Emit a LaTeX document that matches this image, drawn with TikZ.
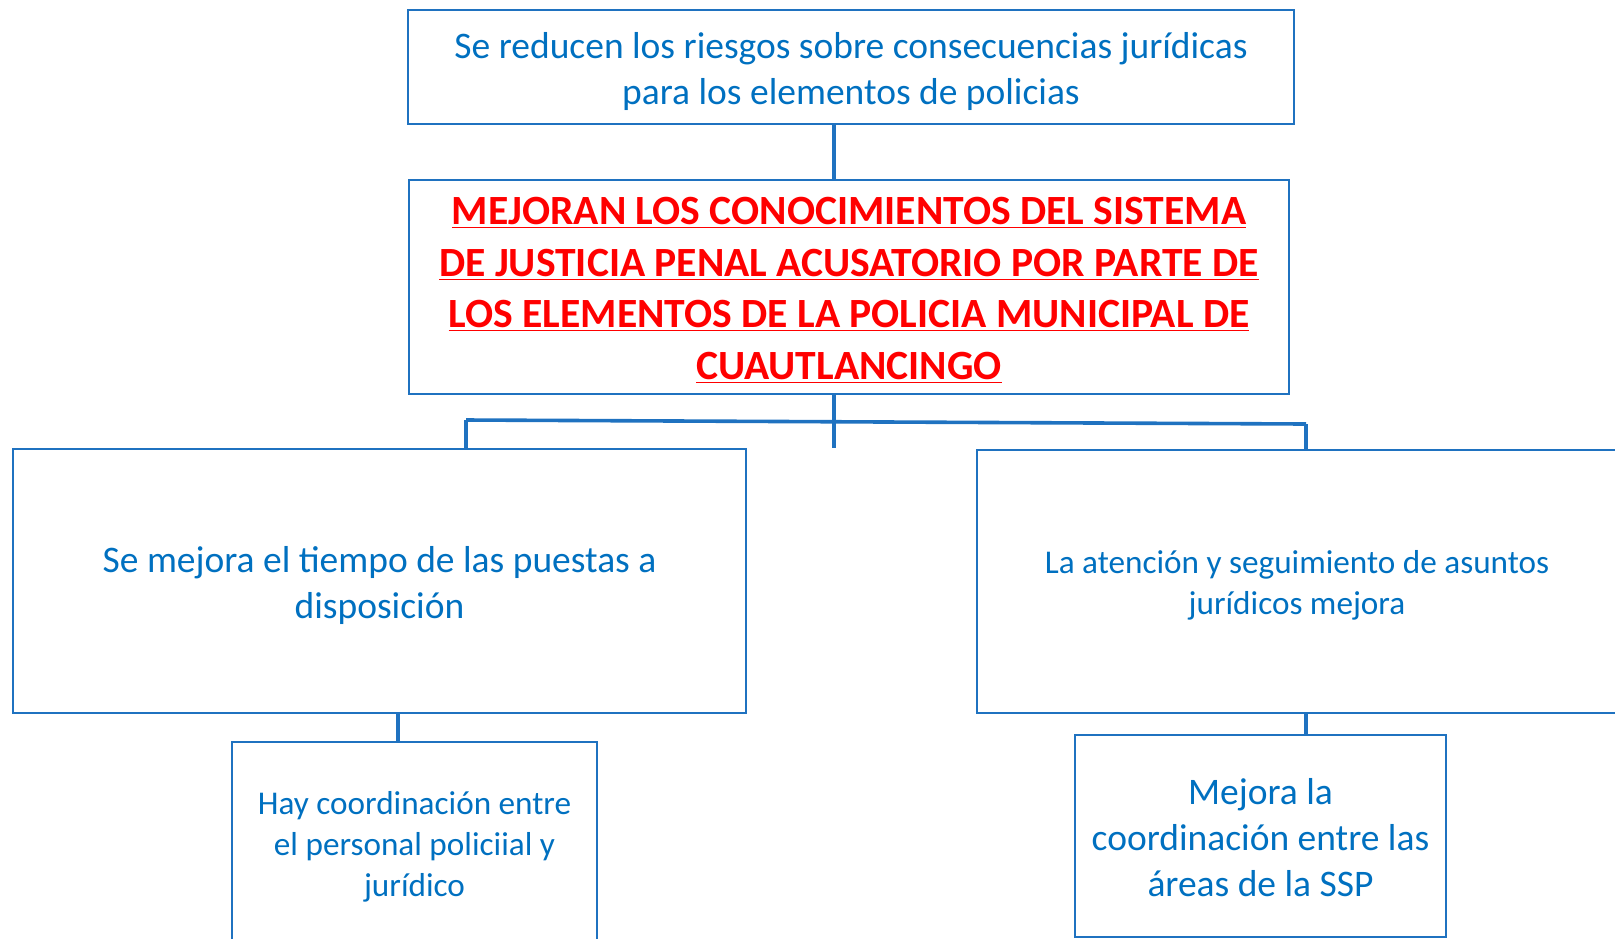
\documentclass[tikz,border=0pt]{standalone}
\usepackage{fontspec}
\setmainfont{Carlito}
\usetikzlibrary{positioning}
\definecolor{cblue}{HTML}{0070C0}
\definecolor{cline}{HTML}{1F72C0}
\definecolor{cred}{HTML}{FF0000}
\newcommand{\lift}[1][0.94em]{\rule{0pt}{#1}}
\tikzset{
  every picture/.style={line width=1.2pt},
  box/.style={draw=cline, rectangle, align=center, text=cblue, inner sep=0pt},
  link/.style={draw=cline, line width=1.8pt},
  headline/.style={font=\fontsize{20.8}{25.8}\selectfont\bfseries, text=cred},
}
\begin{document}
\begin{tikzpicture}[x=0.5pt, y=-0.5pt,
                    big/.style={font=\fontsize{18.75}{23}\selectfont},
                    small/.style={font=\fontsize{16.6}{20.4}\selectfont}]
  \clip (0,0) rectangle (1615,938);
  \node[box, big, minimum width=443pt, minimum height=57pt] (top) at (851, 67)
    {\lift Se reducen los riesgos sobre consecuencias jurídicas\\para los elementos de policias};
  \node[box, headline, minimum width=440pt, minimum height=107pt] (mid) at (849, 287)
    {\lift[0.82em]\underline{MEJORAN LOS CONOCIMIENTOS DEL SISTEMA}\\
     \underline{DE JUSTICIA PENAL ACUSATORIO POR PARTE DE}\\
     \underline{LOS ELEMENTOS DE LA POLICIA MUNICIPAL DE}\\
     \underline{CUAUTLANCINGO}};
  \node[box, big, minimum width=366.5pt, minimum height=132pt] (left) at (379.5, 581)
    {\lift Se mejora el tiempo de las puestas a\\disposición};
  \node[box, small, minimum width=320pt, minimum height=131.5pt] (right) at (1297, 581.5)
    {\lift La atención y seguimiento de asuntos\\jurídicos mejora};
  \node[box, small, minimum width=182.5pt, minimum height=101pt] (lowL) at (414.5, 843)
    {\lift Hay coordinación entre\\el personal policiial y\\jurídico};
  \node[box, big, minimum width=185.5pt, minimum height=101pt] (lowR) at (1260.5, 836)
    {\lift[0.8em]Mejora la\\coordinación entre las\\áreas de la SSP};
  % connectors
  \coordinate (axis) at (834, 421);
  \coordinate (barL) at (466, 420);
  \coordinate (barR) at (1306, 424);
  \coordinate (jl) at (398, 713);
  \draw[link] (top.south -| axis) -- (mid.north -| axis);
  \draw[link] (mid.south -| axis) -- (axis |- left.north);
  \draw[link] (barL) -- (barR);
  \draw[link] (barL) -- (barL |- left.north);
  \draw[link] (barR) -- (barR |- right.north);
  \draw[link] (jl) -- (jl |- lowL.north);
  \draw[link] (barR |- right.south) -- (barR |- lowR.north);
\end{tikzpicture}
\end{document}
